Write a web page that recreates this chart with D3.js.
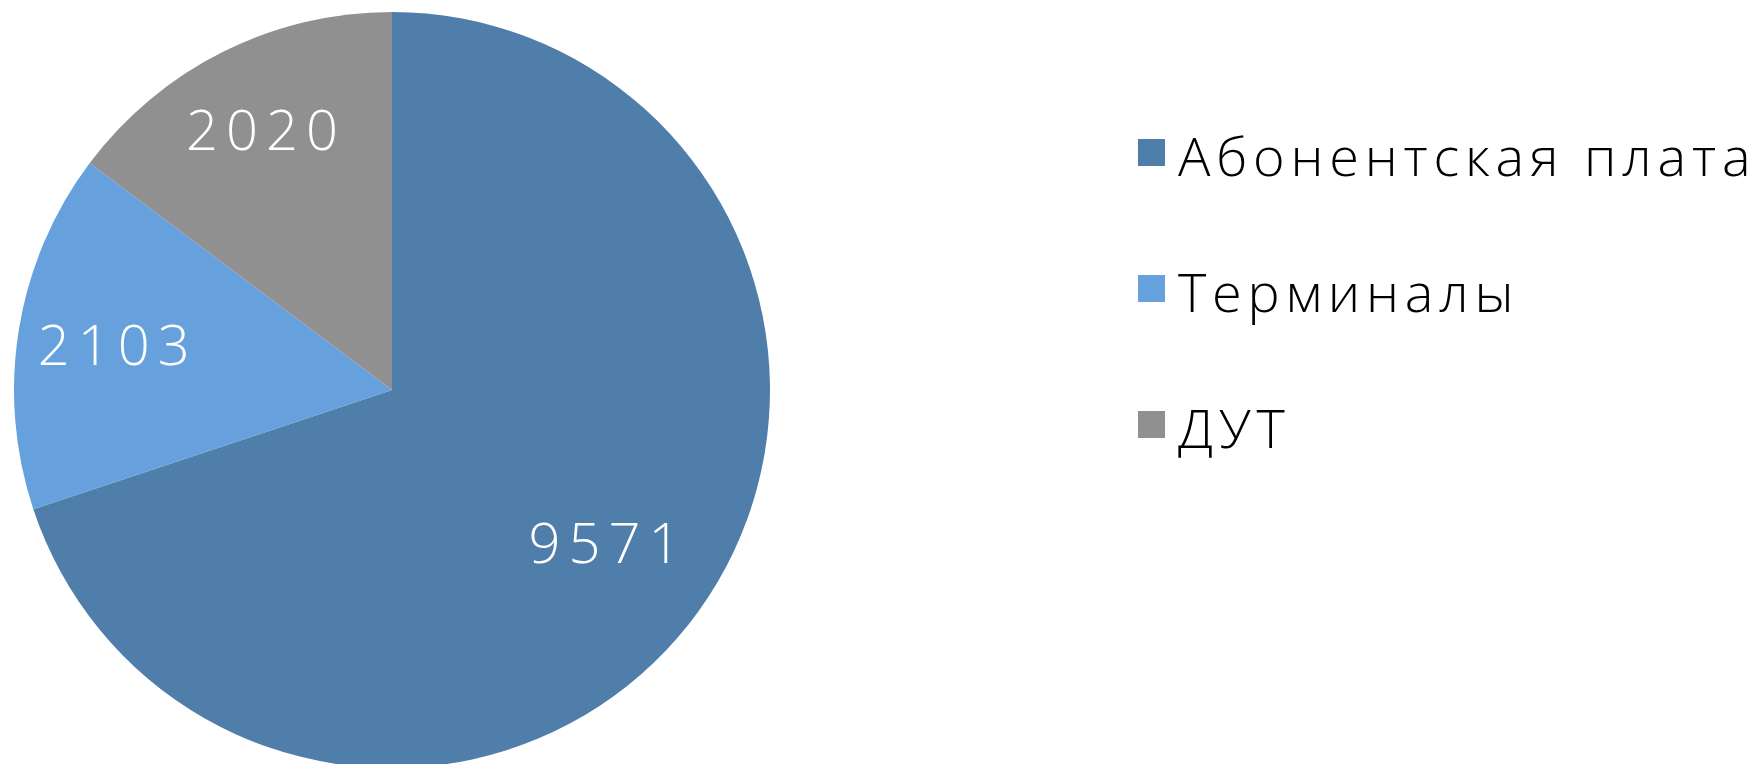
<!DOCTYPE html>
<html>
<head>
<meta charset="utf-8">
<script src="https://cdn.jsdelivr.net/npm/d3@7"></script>
<style>
	body { margin: 0; background: #fff; }
	text { font-family: "Open Sans", "Noto Sans", sans-serif; font-weight: 300; }
</style>
</head>
<body>
<script>
const categories = ['Абонентская плата', 'Терминалы', 'ДУТ'];
const values = [9571, 2103, 2020];
const colors = ['#4F7EAB', '#66A1DD', '#909090'];

const width = 1760;
const height = 764;
const cx = 392, cy = 390;
const radius = 378;

const svg = d3.select('body').append('svg')
	.attr('width', width)
	.attr('height', height);

const data = categories.map(function(c, i) {
	return { name: c, value: values[i], color: colors[i] };
});

const pie = d3.pie()
	.sort(null)
	.value(function(d) { return d.value; });

const arc = d3.arc()
	.innerRadius(0)
	.outerRadius(radius);

// excel puts labels at slightly different distances
const labelR = [262, 282, 291];

const g = svg.append('g')
	.attr('transform', 'translate(' + cx + ',' + cy + ')');

const slices = pie(data);

g.selectAll('path')
	.data(slices)
	.enter().append('path')
	.attr('d', arc)
	.attr('fill', function(d) { return d.data.color; });

g.selectAll('text.lbl')
	.data(slices)
	.enter().append('text')
	.attr('class', 'lbl')
	.attr('transform', function(d, i) {
		const la = d3.arc().innerRadius(labelR[i]).outerRadius(labelR[i]);
		return 'translate(' + la.centroid(d) + ')';
	})
	.attr('text-anchor', 'middle')
	.attr('dx', 4)
	.attr('dy', '0.36em')
	.style('fill', '#fff')
	.style('font-size', '56px')
	.style('letter-spacing', '8px')
	.text(function(d) { return d.data.value; });

// legend
const legend = svg.append('g')
	.attr('transform', 'translate(1138,139)');

const item = legend.selectAll('g')
	.data(data)
	.enter().append('g')
	.attr('transform', function(d, i) { return 'translate(0,' + (i * 136) + ')'; });

item.append('rect')
	.attr('width', 27)
	.attr('height', 27)
	.attr('fill', function(d) { return d.color; });

item.append('text')
	.attr('x', 40)
	.attr('y', 37)
	.style('font-size', '54px')
	.style('letter-spacing', '5.8px')
	.style('fill', '#000')
	.text(function(d) { return d.name; });
</script>
</body>
</html>
